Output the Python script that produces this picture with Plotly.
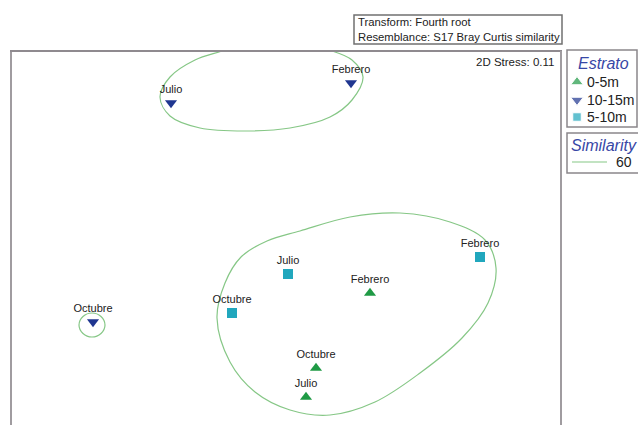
import plotly.graph_objects as go

W, H = 638, 425

# ---- data (NMDS ordination coordinates, arbitrary units) ----
estratos = ["0-5m", "10-15m", "5-10m"]
meses_0_5 = ["Febrero", "Octubre", "Julio"]
x_0_5 = [35.9, 30.5, 29.5]
y_0_5 = [13.2, 5.7, 2.8]

meses_10_15 = ["Julio", "Febrero", "Octubre"]
x_10_15 = [16.0, 34.0, 8.2]
y_10_15 = [32.2, 34.2, 10.3]

meses_5_10 = ["Julio", "Octubre", "Febrero"]
x_5_10 = [27.7, 22.1, 46.9]
y_5_10 = [15.1, 11.2, 16.8]

# similarity 60 contours
c1_x = [21.1, 18.4, 15.9, 14.9, 15.9, 18.9, 23.4, 27.9, 31.9, 34.1, 35.2, 34.1, 32.1, 27.9, 23.9, 21.1]
c1_y = [37.4, 36.5, 34.8, 32.8, 30.9, 29.7, 29.4, 29.7, 30.8, 32.5, 34.8, 36.5, 37.4, 38.3, 38.3, 37.4]

c2_x = [20.6, 21.4, 23.0, 25.6, 28.9, 33.9, 38.9, 43.9, 47.4, 48.5, 47.7, 45.1, 40.9, 36.4, 31.9, 27.9, 24.4, 21.9, 20.6]
c2_y = [10.7, 14.2, 16.8, 18.4, 19.4, 20.8, 21.2, 20.3, 18.5, 15.7, 12.2, 8.7, 5.2, 2.3, 1.0, 1.5, 3.3, 6.3, 10.7]

c3_x = [9.4, 9.0, 8.1, 7.2, 6.8, 7.2, 8.1, 9.0, 9.4]
c3_y = [10.0, 10.85, 11.2, 10.85, 10.0, 9.15, 8.8, 9.15, 10.0]

stress_txt = "2D Stress: 0.11"
transform_lines = ["Transform: Fourth root", "Resemblance: S17 Bray Curtis similarity"]
similarity_level = "60"

# ---- styles ----
GREEN = "#1f9a45"
NAVY = "#1f3690"
TEAL = "#21a7bd"
CONTOUR = "#86c786"
FRAME = "#a09ca0"
TITLE_BLUE = "#3747a6"
FONT = "Liberation Sans, Arial, sans-serif"

fig = go.Figure()

for cx, cy in [(c1_x, c1_y), (c2_x, c2_y), (c3_x, c3_y)]:
    fig.add_trace(go.Scatter(x=cx, y=cy, mode="lines", line=dict(color=CONTOUR, width=1.2, shape="spline", smoothing=1.0),
                             hoverinfo="skip", showlegend=False, xaxis="x", yaxis="y"))

lab_font = dict(family=FONT, size=11, color="#222222")
fig.add_trace(go.Scatter(x=x_0_5, y=y_0_5, text=meses_0_5, mode="markers+text", textposition="top center",
                         textfont=lab_font, cliponaxis=False,
                         marker=dict(symbol="triangle-up", size=10.5, color=GREEN), showlegend=False))
fig.add_trace(go.Scatter(x=x_10_15, y=y_10_15, text=meses_10_15, mode="markers+text", textposition="top center",
                         textfont=lab_font, cliponaxis=False,
                         marker=dict(symbol="triangle-down", size=10.5, color=NAVY), showlegend=False))
fig.add_trace(go.Scatter(x=x_5_10, y=y_5_10, text=meses_5_10, mode="markers+text", textposition="top center",
                         textfont=lab_font, cliponaxis=False,
                         marker=dict(symbol="square", size=10, color=TEAL), showlegend=False))

# overlay pixel axes for legend glyphs
leg_sym = ["triangle-up", "triangle-down", "square"]
leg_col = [GREEN, NAVY, TEAL]
leg_y = [82, 100, 117]
fig.add_trace(go.Scatter(x=[577, 577, 577], y=leg_y, mode="markers",
                         marker=dict(symbol=leg_sym, size=[11, 11, 8.5], color=leg_col),
                         xaxis="x2", yaxis="y2", showlegend=False, hoverinfo="skip"))

shapes = [
    # plot frame (left, top, right)
    dict(type="line", xref="x2", yref="y2", x0=11, x1=11, y0=51, y1=425, line=dict(color=FRAME, width=2)),
    dict(type="line", xref="x2", yref="y2", x0=10, x1=562, y0=51, y1=51, line=dict(color="#8f8a8f", width=2)),
    dict(type="line", xref="x2", yref="y2", x0=561, x1=561, y0=51, y1=425, line=dict(color=FRAME, width=2)),
    # transform box
    dict(type="rect", xref="x2", yref="y2", x0=354, x1=562, y0=15, y1=44, line=dict(color="#707070", width=1.5),
         fillcolor="white"),
    # Estrato box
    dict(type="rect", xref="x2", yref="y2", x0=567, x1=637, y0=50, y1=127, line=dict(color="#8a868a", width=1.5)),
    # Similarity box
    dict(type="rect", xref="x2", yref="y2", x0=567, x1=645, y0=133, y1=173, line=dict(color="#8a868a", width=1.5)),
    dict(type="line", xref="x2", yref="y2", x0=572, x1=607, y0=162, y1=162, line=dict(color=CONTOUR, width=1.2)),
]

annotations = [
    dict(x=556, y=62, xref="x2", yref="y2", text=stress_txt, showarrow=False, xanchor="right", yanchor="middle",
         font=dict(family=FONT, size=11.5, color="#222222")),
    dict(x=356, y=22, xref="x2", yref="y2", text=transform_lines[0], showarrow=False, xanchor="left", yanchor="middle",
         font=dict(family=FONT, size=11.3, color="#222222")),
    dict(x=356, y=37, xref="x2", yref="y2", text=transform_lines[1], showarrow=False, xanchor="left", yanchor="middle",
         font=dict(family=FONT, size=11.3, color="#222222")),
    dict(x=603, y=63, xref="x2", yref="y2", text="<i>Estrato</i>", showarrow=False, xanchor="center", yanchor="middle",
         font=dict(family=FONT, size=16, color=TITLE_BLUE)),
    dict(x=569, y=145, xref="x2", yref="y2", text="<i>Similarity</i>", showarrow=False, xanchor="left",
         yanchor="middle", font=dict(family=FONT, size=16, color=TITLE_BLUE)),
    dict(x=634, y=162, xref="x2", yref="y2", text=similarity_level, showarrow=False, xanchor="right",
         yanchor="middle", font=dict(family=FONT, size=14, color="#222222")),
]
for lbl, yy in zip(estratos, leg_y):
    annotations.append(dict(x=585, y=yy, xref="x2", yref="y2", text=lbl, showarrow=False, xanchor="left",
                            yanchor="middle", font=dict(family=FONT, size=14, color="#222222")))

fig.update_layout(
    width=W, height=H,
    margin=dict(l=0, r=0, t=0, b=0),
    paper_bgcolor="white",
    plot_bgcolor="rgba(0,0,0,0)",
    xaxis=dict(domain=[11 / W, 561 / W], range=[0, 55], visible=False, fixedrange=True),
    yaxis=dict(domain=[0, 374 / H], range=[0, 37.4], visible=False, fixedrange=True),
    xaxis2=dict(domain=[0, 1], range=[0, W], visible=False, fixedrange=True, anchor="y2"),
    yaxis2=dict(domain=[0, 1], range=[H, 0], visible=False, fixedrange=True, anchor="x2"),
    shapes=shapes,
    annotations=annotations,
    showlegend=False,
)

fig.write_html("out.html")
